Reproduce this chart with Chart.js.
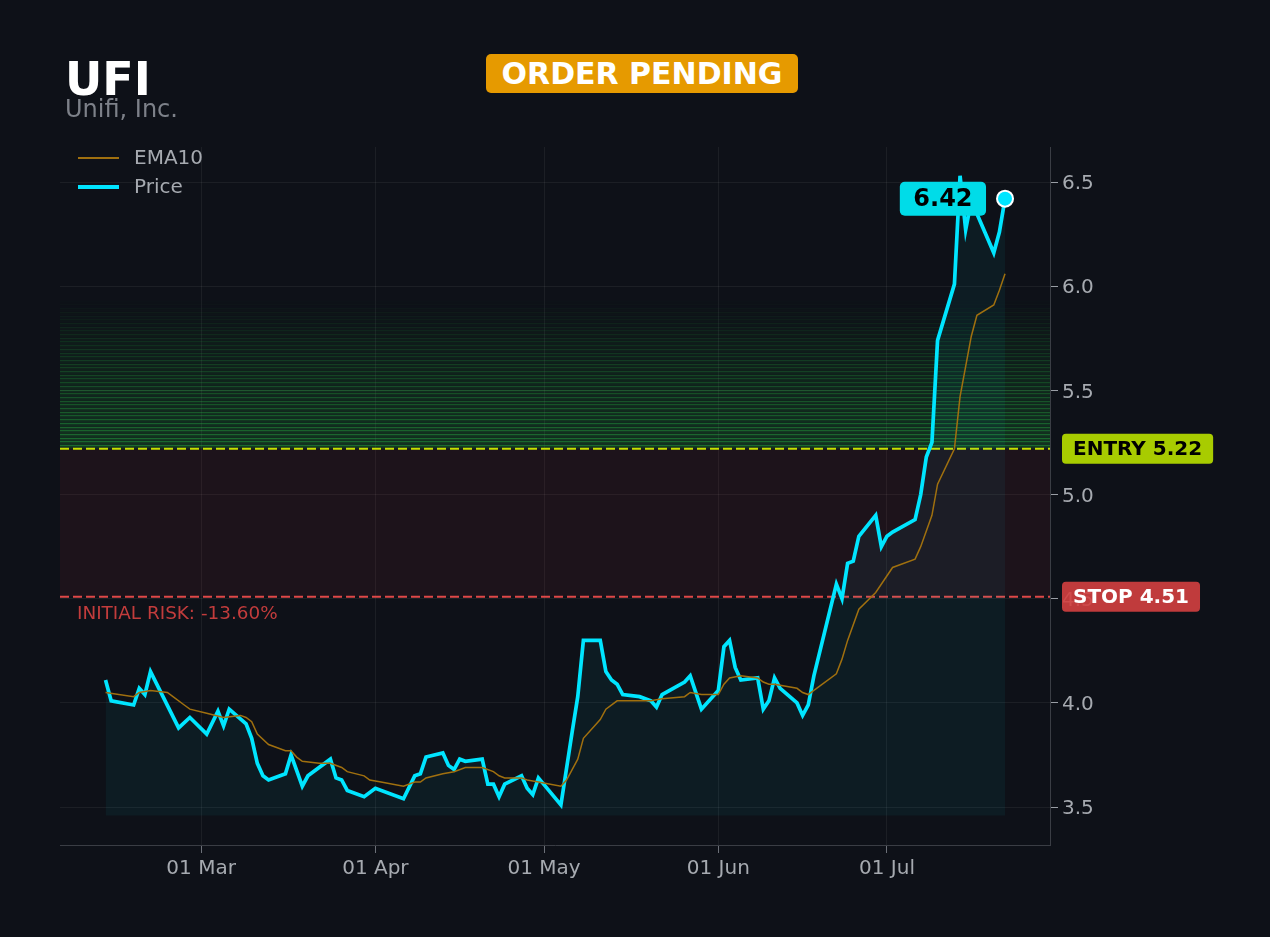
<!DOCTYPE html>
<html>
<head>
<meta charset="utf-8">
<title>UFI</title>
<script src="https://cdn.jsdelivr.net/npm/chart.js@4.4.0/dist/chart.umd.min.js"></script>
<style>
  body { margin: 0; background: #0e1118; }
  #wrap { position: relative; width: 1270px; height: 937px; overflow: hidden; font-family: 'DejaVu Sans', sans-serif; }
  #c { position: absolute; left: 0; top: 0; }
  .ticker { position: absolute; left: 65px; top: 56px; font-size: 46px; line-height: 46px; font-weight: bold; color: #ffffff; }
  .name { position: absolute; left: 65px; top: 97px; font-size: 24px; line-height: 24px; color: #7d8189; }
  .badge { position: absolute; left: 486px; top: 54px; width: 312px; height: 39px; border-radius: 5px; background: #e69a00;
           color: #fff; font-weight: bold; font-size: 30px; display: flex; align-items: center; justify-content: center; }
</style>
</head>
<body>
<div id="wrap">
  <canvas id="c" width="1270" height="937"></canvas>
  <div class="ticker">UFI</div>
  <div class="name">Unifi, Inc.</div>
  <div class="badge">ORDER PENDING</div>
</div>
<script>
// days counted from 01 Mar 2024
const priceDays = [-17, -16, -12, -11, -10, -9, -4, -2, 1, 3, 4, 5, 8, 9, 10, 11, 12, 15, 16, 18, 19, 23, 24, 25, 26, 29, 31,
  36, 38, 39, 40, 43, 44, 45, 46, 47, 50, 51, 52, 53, 54, 57, 58, 59, 60, 64, 66, 67, 68, 71, 72, 73, 74, 75, 78, 80, 81, 82,
  86, 87, 89, 92, 93, 94, 95, 96, 99, 100, 101, 102, 103, 106, 107, 108, 109, 113, 114, 115, 116, 117, 120, 121, 122, 123,
  127, 128, 129, 130, 131, 134, 135, 136, 137, 141, 142, 143];
const priceValues = [4.11, 4.01, 3.99, 4.07, 4.04, 4.15, 3.88, 3.93, 3.85, 3.96, 3.89, 3.97, 3.90, 3.83, 3.71, 3.65, 3.63, 3.66, 3.75, 3.60, 3.65, 3.73, 3.64, 3.63, 3.58, 3.55, 3.59,
  3.54, 3.65, 3.66, 3.74, 3.76, 3.70, 3.68, 3.73, 3.72, 3.73, 3.61, 3.61, 3.55, 3.61, 3.65, 3.59, 3.56, 3.64, 3.51, 3.86, 4.03, 4.30, 4.30, 4.15, 4.11, 4.09, 4.04, 4.03, 4.01, 3.98, 4.04,
  4.10, 4.13, 3.97, 4.06, 4.27, 4.30, 4.17, 4.11, 4.12, 3.97, 4.01, 4.12, 4.07, 4.00, 3.94, 3.99, 4.13, 4.57, 4.50, 4.67, 4.68, 4.80, 4.90, 4.75, 4.80, 4.82,
  4.88, 5.00, 5.18, 5.25, 5.74, 6.01, 6.53, 6.27, 6.41, 6.16, 6.26, 6.42];

const emaDays = [-17, -12, -11, -9, -6, -5, -3, -2, 1, 4, 7, 8, 9, 10, 12, 15, 16, 17, 18, 21, 23, 25, 26, 29, 30, 32, 36, 38, 39, 40,
  43, 45, 47, 50, 52, 53, 54, 57, 58, 60, 64, 65, 67, 68, 71, 72, 74, 75, 80, 82, 86, 87, 89, 92, 93, 94, 96, 99, 100, 101, 102,
  106, 107, 108, 109, 113, 114, 115, 117, 120, 123, 127, 128, 130, 131, 134, 135, 137, 138, 141, 142, 143];
const emaValues = [4.05, 4.03, 4.05, 4.06, 4.05, 4.03, 3.99, 3.97, 3.95, 3.93, 3.94, 3.93, 3.91, 3.85, 3.80, 3.77, 3.77, 3.74, 3.72, 3.71, 3.71, 3.69, 3.67, 3.65, 3.63, 3.62, 3.60, 3.62, 3.62, 3.64,
  3.66, 3.67, 3.69, 3.69, 3.67, 3.65, 3.64, 3.64, 3.63, 3.62, 3.60, 3.63, 3.73, 3.83, 3.92, 3.97, 4.01, 4.01, 4.01, 4.02, 4.03, 4.05, 4.04, 4.04, 4.09, 4.12, 4.13, 4.12, 4.10, 4.09, 4.09,
  4.07, 4.05, 4.04, 4.06, 4.14, 4.21, 4.30, 4.45, 4.53, 4.65, 4.69, 4.75, 4.90, 5.05, 5.22, 5.47, 5.76, 5.86, 5.91, 5.98, 6.06];

const monthTicks = [0, 31, 61, 92, 122];
const monthLabels = ['01 Mar', '01 Apr', '01 May', '01 Jun', '01 Jul'];
const priceTicks = [3.5, 4.0, 4.5, 5.0, 5.5, 6.0, 6.5];

const entryLevel = 5.22;
const stopLevel = 4.51;
const targetTop = 5.93;
const fillBase = 3.46;
const riskText = 'INITIAL RISK: -13.60%';

const CYAN = '#00e5ff';
const EMA_COLOR = '#a0700f';
const FONT = "'DejaVu Sans', sans-serif";

function pt(days, vals) {
  return days.map((d, i) => ({ x: d, y: vals[i] }));
}

function box(ctx, x, y, w, h, r, color) {
  ctx.fillStyle = color;
  ctx.beginPath();
  ctx.roundRect(x, y, w, h, r);
  ctx.fill();
}

const levelsPlugin = {
  id: 'levels',
  beforeDatasetsDraw(chart) {
    const { ctx, chartArea: a, scales: { y } } = chart;
    const yE = y.getPixelForValue(entryLevel);
    const yS = y.getPixelForValue(stopLevel);
    ctx.save();
    // risk zone
    ctx.fillStyle = 'rgba(220,50,60,0.08)';
    ctx.fillRect(a.left, yE, a.right - a.left, yS - yE);
    // striped target zone, fading upwards
    const n = 40;
    const step = (targetTop - entryLevel) / n;
    for (let i = 0; i < n; i++) {
      const t = i / n;
      const yb = y.getPixelForValue(entryLevel + i * step);
      const yt = y.getPixelForValue(entryLevel + (i + 1) * step);
      ctx.fillStyle = `rgba(40,190,70,${0.19 * (1 - t)})`;
      ctx.fillRect(a.left, yt, a.right - a.left, yb - yt);
      ctx.fillStyle = `rgba(40,190,70,${0.42 * (1 - t)})`;
      ctx.fillRect(a.left, Math.round(yt), a.right - a.left, 1.2);
    }
    // dashed levels
    ctx.lineWidth = 2;
    ctx.setLineDash([9, 4]);
    ctx.strokeStyle = '#c8e000';
    ctx.beginPath(); ctx.moveTo(a.left, yE); ctx.lineTo(a.right, yE); ctx.stroke();
    ctx.strokeStyle = '#e04848';
    ctx.beginPath(); ctx.moveTo(a.left, yS); ctx.lineTo(a.right, yS); ctx.stroke();
    ctx.restore();
  },
  afterDraw(chart) {
    const { ctx, chartArea: a, scales: { x, y } } = chart;
    const yE = y.getPixelForValue(entryLevel);
    const yS = y.getPixelForValue(stopLevel);
    ctx.save();
    ctx.textBaseline = 'middle';

    // level tags on the price axis
    ctx.font = `bold 20px ${FONT}`;
    ctx.textAlign = 'center';
    let label = 'ENTRY ' + entryLevel.toFixed(2);
    let w = ctx.measureText(label).width + 22;
    box(ctx, a.right + 12, yE - 15, w, 30, 4, '#a8cc00');
    ctx.fillStyle = '#000';
    ctx.fillText(label, a.right + 12 + w / 2, yE + 1);

    label = 'STOP ' + stopLevel.toFixed(2);
    w = ctx.measureText(label).width + 22;
    box(ctx, a.right + 12, yS - 15, w, 30, 4, 'rgba(212,64,64,0.9)');
    ctx.fillStyle = '#fff';
    ctx.fillText(label, a.right + 12 + w / 2, yS + 1);

    // risk note
    ctx.font = `18.4px ${FONT}`;
    ctx.textAlign = 'left';
    ctx.fillStyle = '#c23c3c';
    ctx.fillText(riskText, a.left + 17, yS + 18);

    // last price tag
    const last = priceValues.length - 1;
    const lx = x.getPixelForValue(priceDays[last]);
    const ly = y.getPixelForValue(priceValues[last]);
    ctx.font = `bold 24px ${FONT}`;
    label = priceValues[last].toFixed(2);
    w = ctx.measureText(label).width + 27;
    box(ctx, lx - 19 - w, ly - 17, w, 34, 5, '#00dce8');
    ctx.fillStyle = '#000';
    ctx.textAlign = 'center';
    ctx.fillText(label, lx - 19 - w / 2, ly + 1);

    // legend
    const lgx = a.left + 18;
    const rows = [
      { text: 'EMA10', color: EMA_COLOR, width: 2, y: a.top + 11 },
      { text: 'Price', color: CYAN, width: 4, y: a.top + 40 }
    ];
    ctx.font = `20px ${FONT}`;
    ctx.textAlign = 'left';
    rows.forEach(r => {
      ctx.strokeStyle = r.color;
      ctx.lineWidth = r.width;
      ctx.beginPath(); ctx.moveTo(lgx, r.y); ctx.lineTo(lgx + 41, r.y); ctx.stroke();
      ctx.fillStyle = '#a6aab0';
      ctx.fillText(r.text, lgx + 56, r.y + 1);
    });
    ctx.restore();
  }
};

new Chart(document.getElementById('c'), {
  type: 'line',
  data: {
    datasets: [
      {
        label: 'EMA10',
        data: pt(emaDays, emaValues),
        borderColor: EMA_COLOR,
        borderWidth: 1.5,
        pointRadius: 0,
        fill: false
      },
      {
        label: 'Price',
        data: pt(priceDays, priceValues),
        borderColor: CYAN,
        borderWidth: 3.7,
        backgroundColor: 'rgba(0,229,255,0.05)',
        fill: { value: fillBase },
        pointRadius: ctx => (ctx.dataIndex === priceValues.length - 1 ? 8 : 0),
        pointBackgroundColor: CYAN,
        pointBorderColor: '#ffffff',
        pointBorderWidth: 2
      }
    ]
  },
  options: {
    responsive: false,
    devicePixelRatio: 1,
    animation: false,
    layout: { padding: { left: 60, top: 147, right: 0, bottom: 0 } },
    plugins: {
      legend: { display: false },
      tooltip: { enabled: false }
    },
    scales: {
      x: {
        type: 'linear',
        min: -25.1,
        max: 151,
        afterFit: s => { s.height = 92; },
        afterBuildTicks: s => { s.ticks = monthTicks.map(v => ({ value: v })); },
        grid: { color: 'rgba(255,255,255,0.06)', tickColor: '#6c7078', tickLength: 8 },
        border: { color: '#3a3d44' },
        ticks: {
          color: '#a6aab0',
          font: { family: FONT, size: 20 },
          padding: 4,
          maxRotation: 0,
          callback: v => monthLabels[monthTicks.indexOf(v)]
        }
      },
      y: {
        position: 'right',
        min: 3.318,
        max: 6.668,
        afterFit: s => { s.width = 220; },
        afterBuildTicks: s => { s.ticks = priceTicks.map(v => ({ value: v })); },
        grid: { color: 'rgba(255,255,255,0.06)', tickColor: '#9a9ea5', tickLength: 8 },
        border: { color: '#3a3d44' },
        ticks: {
          color: '#a6aab0',
          font: { family: FONT, size: 20 },
          padding: 4,
          labelOffset: 2,
          callback: v => v.toFixed(1)
        }
      }
    }
  },
  plugins: [levelsPlugin]
});
</script>
</body>
</html>
